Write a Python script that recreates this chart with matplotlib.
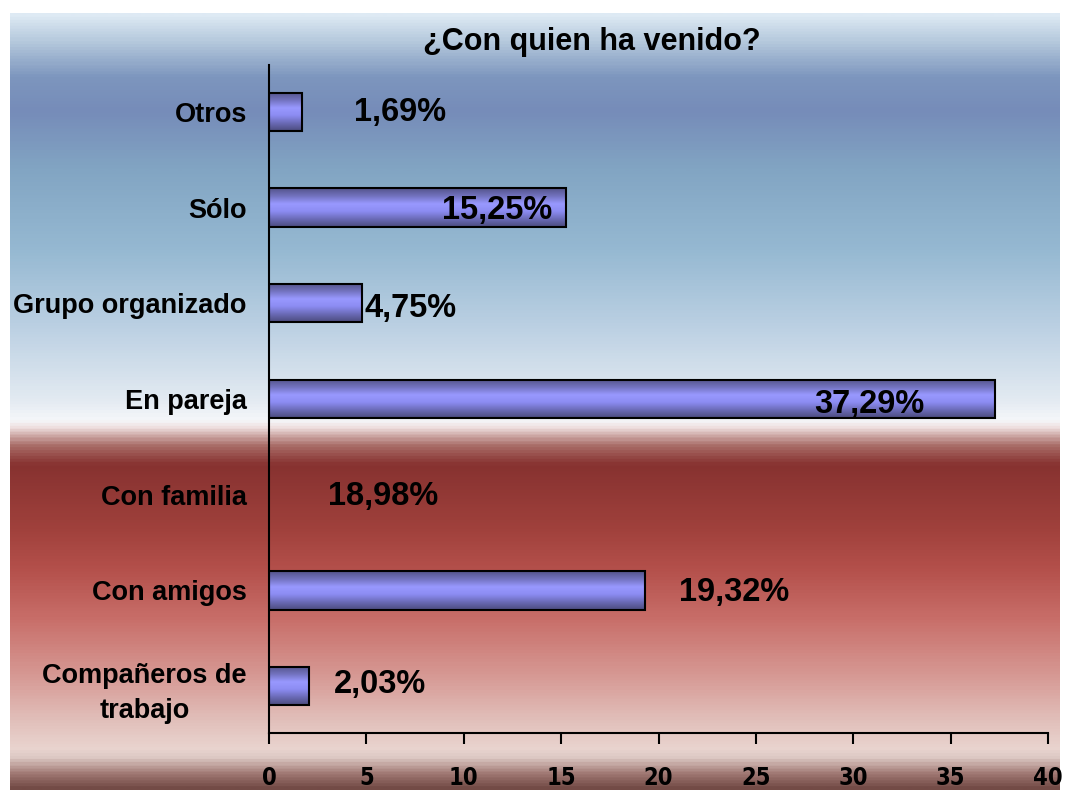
import numpy as np
import matplotlib
matplotlib.use('Agg')
import matplotlib.pyplot as plt
import matplotlib.transforms as mtransforms
from matplotlib.colors import LinearSegmentedColormap
from matplotlib import font_manager

# datos
categorias = ['Compañeros de\ntrabajo', 'Con amigos', 'Con familia', 'En pareja',
              'Grupo organizado', 'Sólo', 'Otros']
valores = [2.03, 19.32, 18.98, 37.29, 4.75, 15.25, 1.69]
etiquetas = ['2,03%', '19,32%', '18,98%', '37,29%', '4,75%', '15,25%', '1,69%']
# la barra de "Con familia" no aparece en el original
visible = [True, True, False, True, True, True, True]
# posicion de las etiquetas (en unidades del eje x) tal como estan en el grafico
pos_etiq = [5.7, 23.9, 5.85, 30.8, 7.25, 11.7, 6.75]
desp_etiq = [0.02, -0.02, -0.02, -0.06, -0.05, -0.03, -0.01]
ticks = [0, 5, 10, 15, 20, 25, 30, 35, 40]

# fuente estrecha para los ticks si existe
nombres = {(f.name, f.stretch) for f in font_manager.fontManager.ttflist}
estrecha = dict(family=['Liberation Sans', 'DejaVu Sans'])
if any(n == 'Liberation Sans Narrow' for n, s in nombres):
    estrecha = dict(family=['Liberation Sans Narrow', 'DejaVu Sans'])
elif ('DejaVu Sans', 'condensed') in nombres:
    estrecha = dict(family=['DejaVu Sans'], stretch='condensed')
normal = ['Liberation Sans', 'DejaVu Sans']

fig = plt.figure(figsize=(10.69, 7.90), dpi=100)

# fondo degradado
stops = [(0.0, (222, 234, 244)), (0.035, (180, 200, 220)), (0.08, (125, 150, 190)),
         (0.125, (118, 140, 185)), (0.2, (130, 165, 195)), (0.305, (150, 185, 210)),
         (0.41, (190, 210, 228)), (0.5, (228, 235, 242)), (0.524, (245, 247, 250)),
         (0.534, (238, 222, 222)), (0.556, (170, 110, 105)), (0.582, (135, 50, 48)),
         (0.665, (160, 65, 60)), (0.717, (180, 80, 75)), (0.781, (200, 110, 105)),
         (0.858, (215, 155, 150)), (0.91, (225, 190, 185)), (0.949, (233, 212, 207)),
         (0.961, (220, 200, 195)), (0.981, (160, 120, 115)), (1.0, (115, 75, 70))]
cmap_bg = LinearSegmentedColormap.from_list('bg', [(p, tuple(c / 255 for c in col)) for p, col in stops])
bg = fig.add_axes([10 / 1069, 0, 1050 / 1069, 777 / 790])
bg.imshow(np.linspace(0, 1, 800).reshape(-1, 1), aspect='auto', cmap=cmap_bg,
          extent=[0, 1, 0, 1], interpolation='bilinear')
bg.set_axis_off()

ax = fig.add_axes([269 / 1069, 1 - 733 / 790, (1048 - 269) / 1069, (733 - 65) / 790])
ax.patch.set_alpha(0)

y = np.arange(len(categorias))
cmap_bar = LinearSegmentedColormap.from_list('bar', [(0.33, 0.33, 0.55), (0.45, 0.45, 0.75),
                                                     (0.6, 0.6, 1.0), (0.55, 0.55, 0.95),
                                                     (0.42, 0.42, 0.72), (0.3, 0.3, 0.5)])
grad = np.linspace(0, 1, 40).reshape(-1, 1)
barras = ax.barh(y, valores, height=0.4, facecolor='none', edgecolor='black', linewidth=1.5, zorder=3)
for b, v in zip(barras, visible):
    if not v:
        b.set_visible(False)
        continue
    x0, y0, w, h = b.get_x(), b.get_y(), b.get_width(), b.get_height()
    ax.imshow(grad, aspect='auto', cmap=cmap_bar, extent=[x0, x0 + w, y0, y0 + h],
              interpolation='bilinear', zorder=2)

for i in range(len(categorias)):
    ax.text(pos_etiq[i], y[i] + desp_etiq[i], etiquetas[i], ha='center', va='center',
            fontsize=23.5, fontweight='bold', family=normal, zorder=4)

ax.set_xlim(0, 40)
ax.set_ylim(-0.49, 6.49)
ax.set_xticks(ticks)
ax.set_xticklabels([str(t) for t in ticks], fontsize=17, fontweight='bold', **estrecha)
ax.set_yticks(y)
ax.set_yticklabels(categorias, fontsize=19.5, fontweight='bold', family=normal, linespacing=1.45)
for lab in ax.get_yticklabels():
    lab.set_multialignment('center')
# subir un poco la etiqueta de dos lineas
lab0 = ax.get_yticklabels()[0]
lab0.set_transform(lab0.get_transform() + mtransforms.ScaledTranslation(0, 5 / 100, fig.dpi_scale_trans))
ax.tick_params(axis='y', length=0, pad=16)
ax.tick_params(axis='x', length=8, width=1.5, direction='out', pad=16)
for s in ['top', 'right']:
    ax.spines[s].set_visible(False)
ax.spines['left'].set_linewidth(1.5)
ax.spines['bottom'].set_linewidth(1.5)

fig.text(592 / 1069, 1 - 42 / 790, '¿Con quien ha venido?', ha='center', va='center',
         fontsize=22, fontweight='bold', family=normal)

plt.savefig('out.png', dpi=100)
